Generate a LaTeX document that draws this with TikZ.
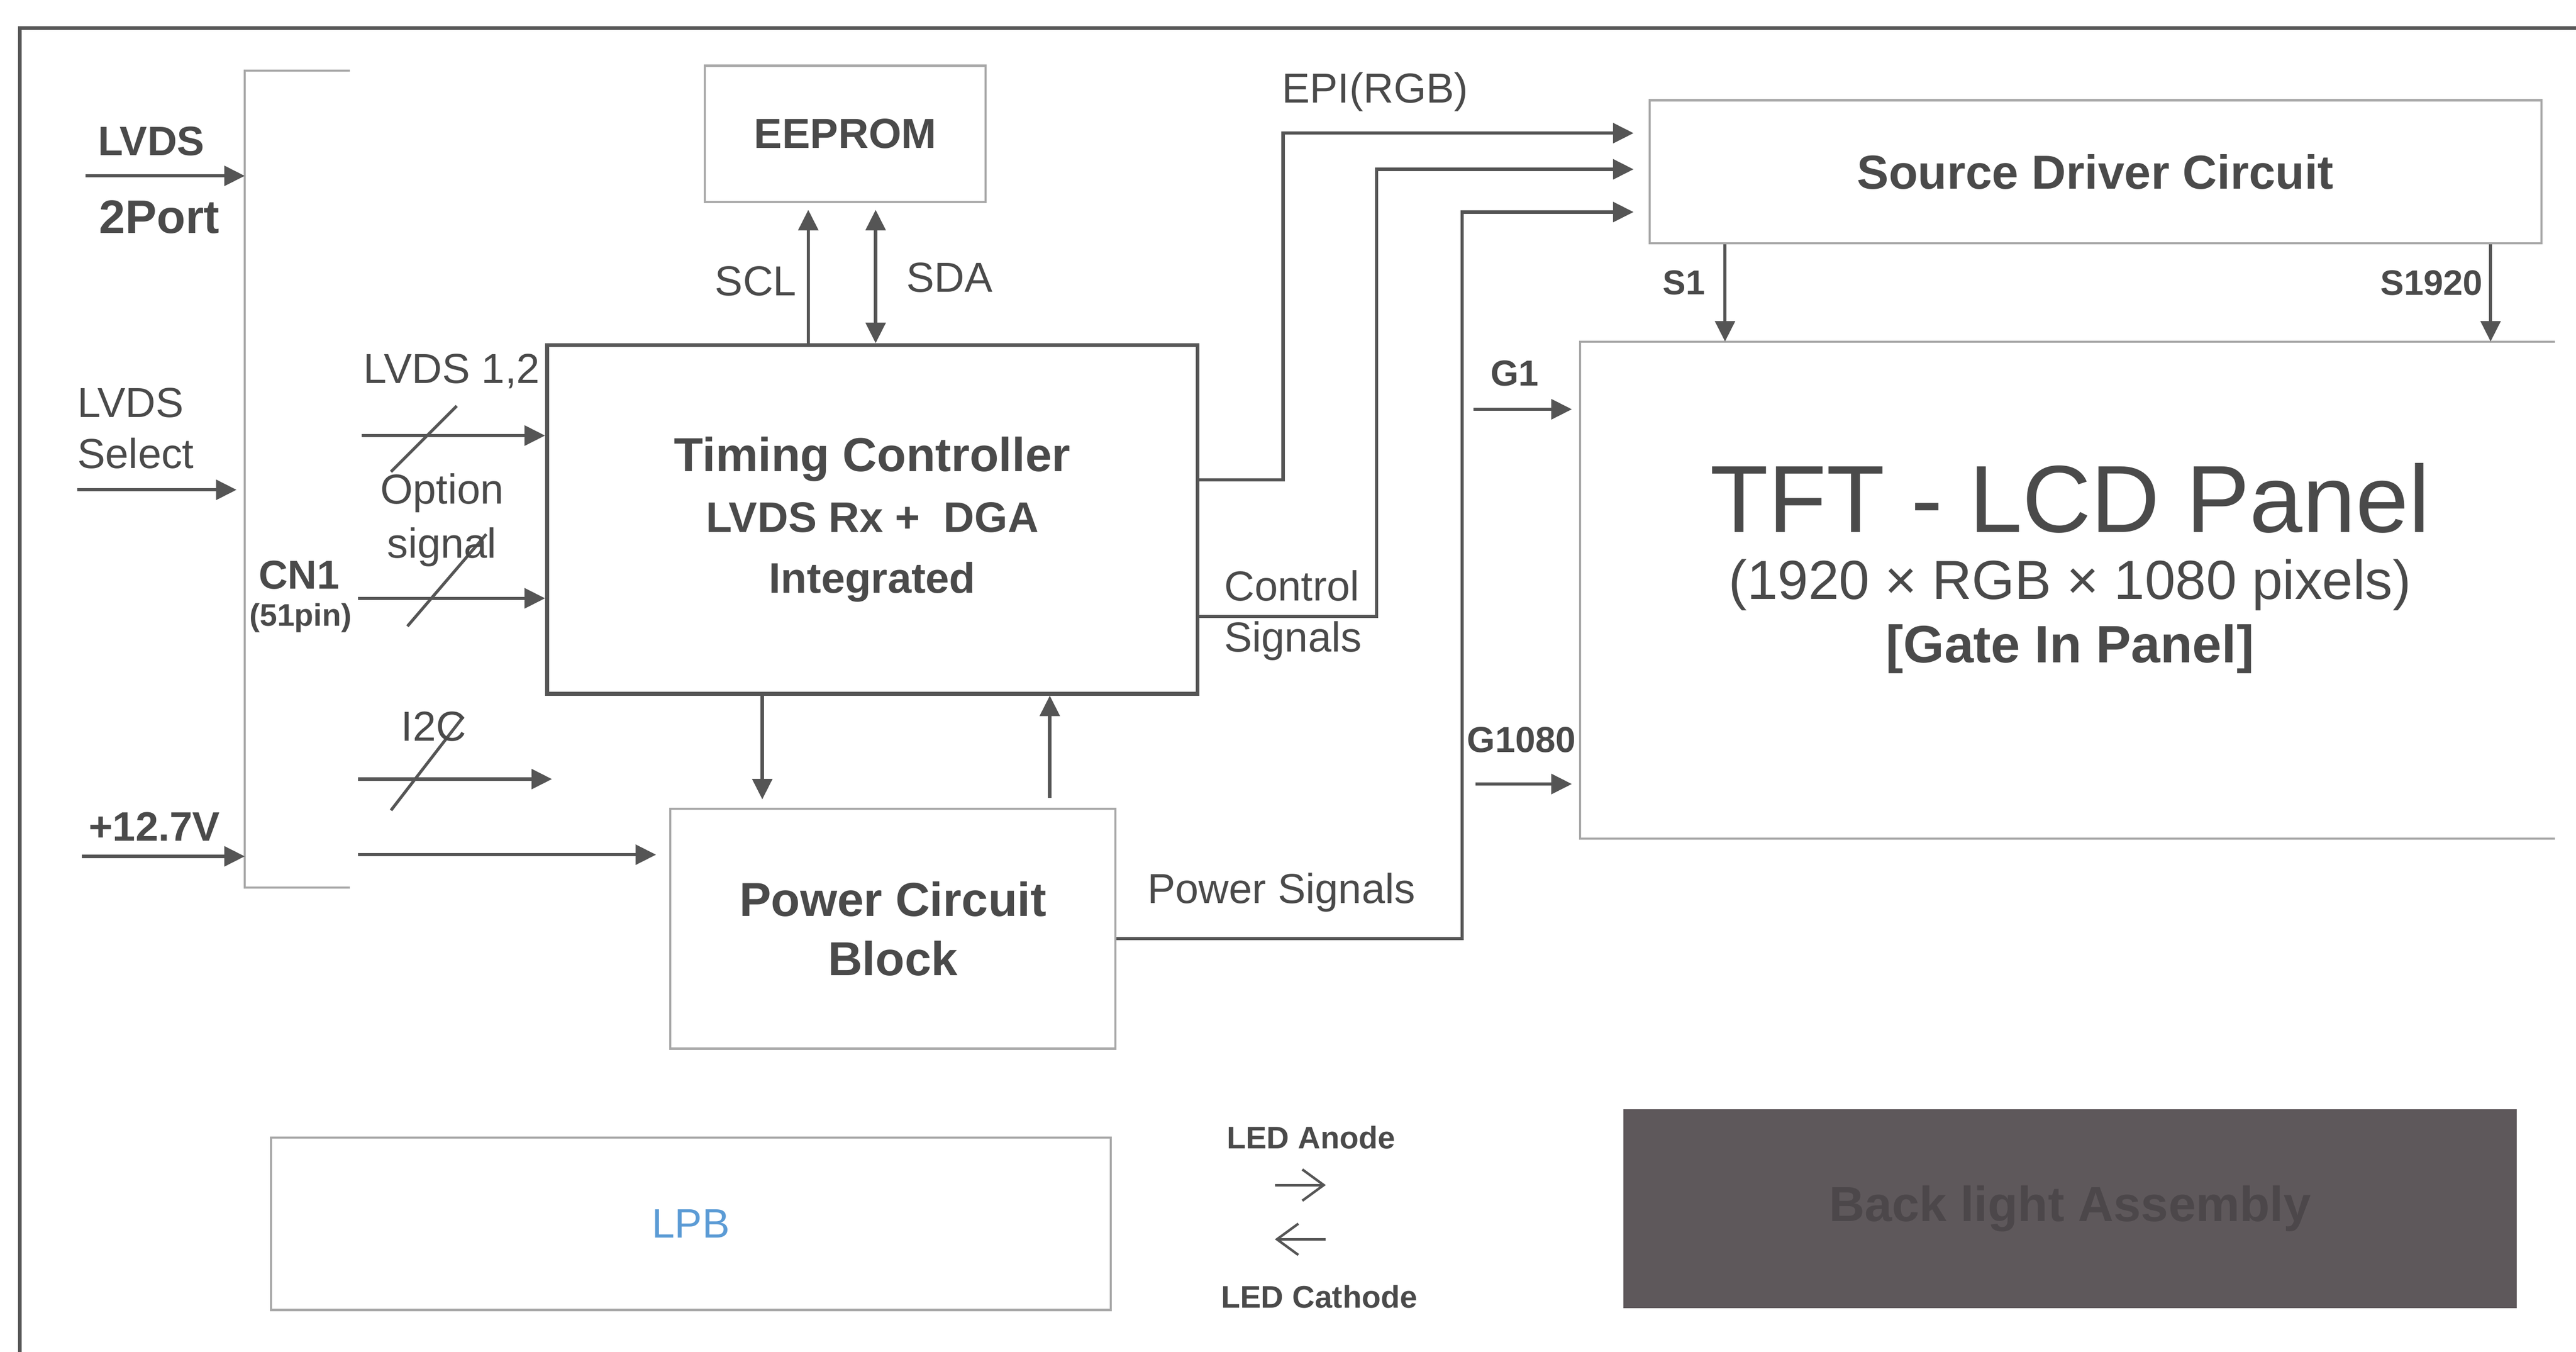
\documentclass[tikz,border=0pt]{standalone}
\usepackage{fontspec}
\setmainfont{Liberation Sans}
\usetikzlibrary{arrows.meta,calc}

\definecolor{ink}{HTML}{4A4A4A}
\definecolor{wire}{HTML}{555555}
\definecolor{pale}{HTML}{A8A8A8}
\definecolor{lpbblue}{HTML}{5B9BD5}
\definecolor{blfill}{HTML}{5E585B}
\definecolor{bltext}{HTML}{4C474A}

\newcommand{\pxfont}[2]{\fontsize{#1}{#2}\selectfont}

\tikzset{
  lbl/.style={inner sep=0pt, text=ink, font=\pxfont{25.5}{31}},
  lblb/.style={lbl, font=\pxfont{25}{31}\bfseries},
  tip/.tip={Triangle[length=12.5pt,width=12pt]},
  sig/.style={draw=wire, line width=2pt, -tip},
  busslash/.style={draw=wire, line width=1.8pt},
  ledarrow/.style={draw=wire, line width=1.5pt, -{Straight Barb[length=13pt,width=19pt]}},
  thinbox/.style={draw=pale, line width=1.3pt, inner sep=0pt, text=ink},
  thickbox/.style={draw=wire, line width=2.4pt, inner sep=0pt, text=ink}
}

\begin{document}
\begin{tikzpicture}[x=1pt,y=-1pt]
\useasboundingbox (0,0) rectangle (1568,822.5);

% Draw the outer frame and the CN1 bracket
\draw[wire, line width=2.2pt] (12,823) -- (12,17) -- (1568,17);
\coordinate (cnTop) at (149,43);
\coordinate (cnBot) at (149,540);
\draw[pale, line width=1.3pt] (213,43) -- (cnTop) -- (cnBot) -- (213,540);

% Draw the blocks
\node[thickbox, minimum width=396pt, minimum height=212pt, align=center,
      font=\pxfont{26}{37}\bfseries] (tcon) at (531,316)
  {{\pxfont{29}{37}Timing Controller}\\LVDS Rx +\ \ DGA\\Integrated};
\node[thinbox, minimum width=171pt, minimum height=83pt,
      font=\pxfont{25.6}{31}\bfseries] (eeprom) at (514.5,81.5) {EEPROM};
\node[thinbox, minimum width=271pt, minimum height=146pt, align=center,
      font=\pxfont{29}{36}\bfseries] (power) at (543.5,565) {Power Circuit\\Block};
\node[thinbox, minimum width=543pt, minimum height=87pt,
      font=\pxfont{29}{34}\bfseries] (source) at (1275.5,104.5) {Source Driver Circuit};
\node[inner sep=0pt, minimum width=593pt, minimum height=302pt] (panel) at (1258.5,359) {};
\draw[pale, line width=1.3pt] (panel.north east) -- (panel.north west)
  -- (panel.south west) -- (panel.south east);
\node[thinbox, minimum width=511pt, minimum height=105pt, text=lpbblue,
      font=\pxfont{25}{30}] (lpb) at (420.5,744.5) {LPB};
\node[fill=blfill, inner sep=0pt, minimum width=544pt, minimum height=121pt,
      text=bltext, font=\pxfont{30}{34}\bfseries] (blu) at (1260,735.5) {Back light Assembly};

% Panel texts
\node[lbl, font=\pxfont{58}{62}] (tftTitle) at (1260,303) {TFT - LCD Panel};
\node[lbl, font=\pxfont{33.5}{38}] (tftRes) at (1260,356) {(1920 × RGB × 1080 pixels)};
\node[lbl, font=\pxfont{32}{36}\bfseries] (tftGip) at (1260,395) {[Gate In Panel]};

% Inputs to CN1
\coordinate (lvdsIn) at (52,107);
\draw[sig] (lvdsIn) -- (lvdsIn -| cnTop);
\node[lblb] (lvdsTop) at (92,86) {LVDS};
\node[lblb, font=\pxfont{28.6}{34}\bfseries] (lvdsPort) at (97,132) {2Port};
\coordinate (selIn) at (47,298);
\draw[sig, shorten >=5pt] (selIn) -- (selIn -| cnTop);
\node[lbl, anchor=west, align=left] (lvdsSel) at (47,260.5) {LVDS\\Select};
\coordinate (pwrIn) at (50,521);
\draw[sig] (pwrIn) -- (pwrIn -| cnTop);
\node[lblb] (vin) at (94,503) {+12.7V};
\node[lblb, font=\pxfont{24.5}{28}\bfseries] (cnName) at (182,350) {CN1};
\node[lblb, font=\pxfont{19}{22}\bfseries] (cnPins) at (183,376) {(51pin)};

% CN1 to the timing controller and the power block
\coordinate (lvdsBus) at (220,265);
\draw[sig] (lvdsBus) -- (lvdsBus -| tcon.west);
\draw[busslash] ($(lvdsBus)+(18,22)$) -- ++(40,-40);
\node[lbl] (lvdsBusLbl) at (275,226) {LVDS 1,2};
\coordinate (optBus) at (218,364);
\draw[sig] (optBus) -- (optBus -| tcon.west);
\draw[busslash] ($(optBus)+(30,17)$) -- ++(48,-56);
\node[lbl, align=center, font=\pxfont{25.5}{33}] (optLbl) at (269,316.5) {Option\\signal};
\coordinate (i2cBus) at (218,474);
\coordinate (i2cEnd) at (336,474);
\draw[sig] (i2cBus) -- (i2cEnd);
\draw[busslash] ($(i2cBus)+(20,19)$) -- ++(44,-57);
\node[lbl] (i2cLbl) at (264,442) {I2C};
\coordinate (pwrBus) at (218,520);
\draw[sig, shorten >=8pt] (pwrBus) -- (pwrBus -| power.west);

% EEPROM bus
\coordinate (sclWire) at (492,0);
\coordinate (sdaWire) at (533,0);
\draw[sig, shorten >=4pt] (tcon.north -| sclWire) -- (eeprom.south -| sclWire);
\draw[sig, tip-tip, shorten <=4pt]
  (eeprom.south -| sdaWire) -- (tcon.north -| sdaWire);
\node[lbl] (sclLbl) at (460,171) {SCL};
\node[lbl] (sdaLbl) at (578,169) {SDA};

% Timing controller and power block
\coordinate (downWire) at (464,0);
\coordinate (upWire) at (639,0);
\draw[sig, shorten >=5pt] (tcon.south -| downWire) -- (power.north -| downWire);
\draw[sig, shorten <=6pt] (power.north -| upWire) -- (tcon.south -| upWire);

% Lines to the source driver
\coordinate (epiLow) at (781,292);
\coordinate (epiHigh) at (781,81);
\draw[sig, shorten >=9pt] (tcon.east |- epiLow) -- (epiLow) -- (epiHigh) -- (source.west |- epiHigh);
\node[lbl] (epiLbl) at (837,56) {EPI(RGB)};
\coordinate (ctlLow) at (838,375);
\coordinate (ctlHigh) at (838,103);
\draw[sig, shorten >=9pt] (tcon.east |- ctlLow) -- (ctlLow) -- (ctlHigh) -- (source.west |- ctlHigh);
\node[lbl, anchor=west, align=left] (ctlLbl) at (745,374.5) {Control\\Signals};
\coordinate (pwsLow) at (890,571);
\coordinate (pwsHigh) at (890,129);
\draw[sig, shorten >=9pt] (power.east |- pwsLow) -- (pwsLow) -- (pwsHigh) -- (source.west |- pwsHigh);
\node[lbl] (pwsLbl) at (780,543) {Power Signals};

% Source and gate lines into the panel
\coordinate (s1Wire) at (1050,0);
\coordinate (sLastWire) at (1516,0);
\draw[sig] (source.south -| s1Wire) -- (panel.north -| s1Wire);
\draw[sig] (source.south -| sLastWire) -- (panel.north -| sLastWire);
\node[lblb, font=\pxfont{21}{25}\bfseries] (s1Lbl) at (1025,172) {S1};
\node[lblb, font=\pxfont{21.5}{25}\bfseries] (sLastLbl) at (1480,172) {S1920};
\coordinate (g1In) at (897,249);
\coordinate (gLastIn) at (898,477);
\draw[sig, shorten >=5pt] (g1In) -- (g1In -| panel.west);
\draw[sig, shorten >=5pt] (gLastIn) -- (gLastIn -| panel.west);
\node[lblb, font=\pxfont{22}{25}\bfseries] (g1Lbl) at (922,227) {G1};
\node[lblb, font=\pxfont{22}{25}\bfseries] (gLastLbl) at (926,450) {G1080};

% LED lines
\coordinate (anodeA) at (776,721);
\coordinate (anodeB) at (807,721);
\coordinate (cathA) at (807,754);
\coordinate (cathB) at (776,754);
\draw[ledarrow] (anodeA) -- (anodeB);
\draw[ledarrow] (cathA) -- (cathB);
\node[lblb, font=\pxfont{19}{22}\bfseries] (anodeLbl) at (798,692) {LED Anode};
\node[lblb, font=\pxfont{19}{22}\bfseries] (cathLbl) at (803,789) {LED Cathode};

\end{tikzpicture}
\end{document}
